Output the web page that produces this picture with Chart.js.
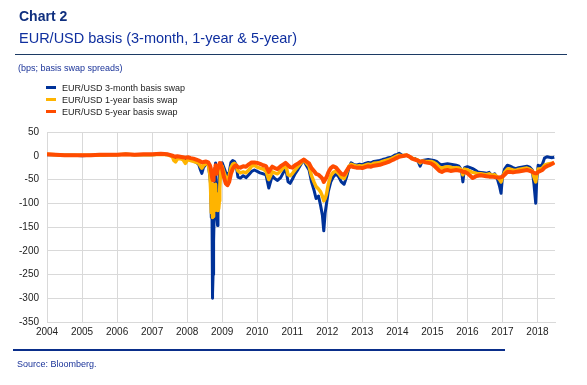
<!DOCTYPE html>
<html>
<head>
<meta charset="utf-8">
<script src="https://cdn.jsdelivr.net/npm/chart.js@4"></script>
<style>
  body { margin: 0; background: #fff; font-family: "Liberation Sans", Arial, sans-serif; }
  #wrap { position: relative; width: 587px; height: 385px; overflow: hidden; }
  #wrap canvas { position: absolute; left: 0; top: 0; }
  .abs { position: absolute; white-space: nowrap; }
  #title { left: 19px; top: 8px; font-size: 14px; font-weight: bold; color: #0f2f7f; }
  #subtitle { left: 19px; top: 30px; font-size: 14.5px; color: #0f2f9f; }
  #topline { left: 15px; top: 54px; width: 552px; height: 1px; background: #1c3a64; }
  #units { left: 18px; top: 63px; font-size: 9px; color: #1a3399; }
  .leg { left: 46px; font-size: 9px; color: #222; }
  .leg i { display: inline-block; width: 10px; height: 3px; margin-right: 6px; vertical-align: 2px; }
  #botline { left: 13px; top: 349px; width: 492px; height: 2px; background: #0a2e8a; }
  #source { left: 17px; top: 359px; font-size: 9px; color: #1a3399; }
</style>
</head>
<body>
<div id="wrap">
  <canvas id="basisChart" width="587" height="385"></canvas>
  <div class="abs" id="title">Chart 2</div>
  <div class="abs" id="subtitle">EUR/USD basis (3-month, 1-year &amp; 5-year)</div>
  <div class="abs" id="topline"></div>
  <div class="abs" id="units">(bps; basis swap spreads)</div>
  <div class="abs leg" style="top:83px"><i style="background:#003299"></i>EUR/USD 3-month basis swap</div>
  <div class="abs leg" style="top:95px"><i style="background:#ffb400"></i>EUR/USD 1-year basis swap</div>
  <div class="abs leg" style="top:107px"><i style="background:#ff4b00"></i>EUR/USD 5-year basis swap</div>
  <div class="abs" id="botline"></div>
  <div class="abs" id="source">Source: Bloomberg.</div>
</div>
<script>
// dates as decimal years, values in bps
const dates = [
  2004.00, 2004.25, 2004.50, 2004.75, 2005.00, 2005.25, 2005.50, 2005.75,
  2006.00, 2006.25, 2006.50, 2006.75, 2007.00, 2007.25, 2007.45, 2007.58,
  2007.62, 2007.67, 2007.72, 2007.80, 2007.88, 2007.95, 2008.02, 2008.10,
  2008.18, 2008.26, 2008.33, 2008.38, 2008.42, 2008.47, 2008.54, 2008.60,
  2008.65, 2008.67, 2008.69, 2008.71, 2008.72, 2008.73, 2008.74, 2008.75, 2008.76, 2008.77, 2008.79,
  2008.80, 2008.81, 2008.83, 2008.85, 2008.87, 2008.88, 2008.90, 2008.92, 2008.93, 2008.95, 2008.96,
  2009.00, 2009.05, 2009.10, 2009.15,
  2009.20, 2009.25, 2009.30, 2009.35, 2009.40, 2009.45, 2009.52, 2009.60,
  2009.68, 2009.76, 2009.84, 2009.92, 2010.00, 2010.08, 2010.17, 2010.25,
  2010.33, 2010.38, 2010.43, 2010.50, 2010.58, 2010.67, 2010.75, 2010.81,
  2010.88, 2010.94, 2011.00, 2011.08, 2011.17, 2011.25, 2011.33, 2011.40,
  2011.48, 2011.55, 2011.62, 2011.68, 2011.75, 2011.81, 2011.86, 2011.90,
  2011.94, 2011.98, 2012.03, 2012.10, 2012.17, 2012.25, 2012.33, 2012.40,
  2012.48, 2012.55, 2012.62, 2012.68, 2012.75, 2012.83, 2012.92, 2013.00,
  2013.08, 2013.17, 2013.25, 2013.33, 2013.42, 2013.50, 2013.58, 2013.67,
  2013.75, 2013.83, 2013.92, 2014.00, 2014.05, 2014.12, 2014.20, 2014.27,
  2014.35, 2014.42, 2014.50, 2014.58, 2014.65, 2014.72, 2014.80, 2014.88,
  2014.96, 2015.04, 2015.12, 2015.20, 2015.27, 2015.35, 2015.43, 2015.52,
  2015.60, 2015.68, 2015.76, 2015.83, 2015.87, 2015.92, 2016.00, 2016.08,
  2016.15, 2016.22, 2016.30, 2016.38, 2016.46, 2016.54, 2016.62, 2016.70,
  2016.78, 2016.86, 2016.92, 2016.96, 2017.00, 2017.06, 2017.14, 2017.22,
  2017.30, 2017.38, 2017.46, 2017.54, 2017.62, 2017.70, 2017.78, 2017.85,
  2017.90, 2017.95, 2017.98, 2018.02, 2018.08, 2018.14, 2018.20, 2018.27,
  2018.34, 2018.42, 2018.48
];
const basis3m = [
  2, 2, 1, 1, 0, 1, 1, 2,
  2, 3, 2, 2, 2, 3, 2, 0,
  -6, -4, -3, -4, -6, -12, -6, -8,
  -10, -14, -18, -30, -37, -24, -18, -16,
  -45, -60, -130, -125, -300, -290, -250, -210, -180, -130, -120,
  -25, -15, -120, -130, -147, -100, -60, -40, -25, -20, -18,
  -15, -25, -35, -40,
  -35, -14, -10, -12, -20, -45, -47, -42,
  -46, -40, -33, -30, -33, -36, -38, -40,
  -68, -55, -42, -48, -52, -46, -35, -24,
  -55, -58, -50, -38, -28, -18, -9, -20,
  -30, -55, -72, -90, -85, -105, -125, -158,
  -120, -100, -75, -55, -45, -38, -45, -55,
  -60, -45, -25, -15, -18, -20, -18, -19,
  -16, -14, -15, -12, -11, -10, -8, -6,
  -4, -3, 1, 3, 5, 2, 0, 1,
  -2, -5, -6, -10, -22, -10, -9, -8,
  -9, -10, -12, -17, -19, -18, -17, -18,
  -19, -20, -22, -30, -55, -25, -23, -25,
  -27, -30, -34, -35, -36, -37, -35, -42,
  -38, -50, -65, -79, -45, -28, -20, -22,
  -25, -27, -25, -24, -23, -22, -24, -30,
  -60, -100, -50, -20, -22, -18, -5, -2,
  -3, -4, -3
];
const basis1y = [
  3, 2, 1, 1, 1, 1, 1, 2,
  2, 3, 2, 2, 2, 3, 2, -2,
  -10, -13, -7, -6, -8, -16, -8, -10,
  -12, -14, -16, -22, -26, -20, -17, -15,
  -40, -70, -120, -60, -130, -125, -100, -128, -90, -115, -70,
  -110, -60, -112, -80, -115, -100, -112, -95, -70, -40, -25,
  -22, -35, -45, -50,
  -42, -25, -18, -16, -20, -32, -36, -34,
  -36, -30, -22, -20, -24, -26, -28, -32,
  -50, -42, -34, -36, -38, -32, -25, -18,
  -40, -42, -38, -30, -22, -15, -8, -15,
  -22, -42, -55, -65, -70, -76, -85, -95,
  -90, -80, -60, -42, -35, -32, -38, -45,
  -48, -36, -22, -18, -20, -22, -21, -22,
  -20, -18, -19, -16, -15, -14, -12, -10,
  -8, -6, -3, 0, 1, 0, 1, 1,
  -2, -5, -7, -9, -15, -11, -12, -12,
  -12, -14, -18, -24, -26, -24, -23, -24,
  -26, -25, -26, -30, -40, -28, -30, -33,
  -35, -36, -38, -38, -39, -40, -38, -41,
  -40, -45, -50, -55, -45, -35, -28, -28,
  -30, -31, -29, -28, -27, -26, -28, -32,
  -45, -55, -40, -28, -28, -26, -20, -18,
  -17, -16, -15
];
const basis5y = [
  3, 2, 1, 1, 1, 1, 2, 2,
  2, 3, 2, 3, 3, 4, 3, 0,
  -1, -2, -1, -2, -3, -4, -3, -5,
  -6, -8, -10, -12, -14, -13, -12, -14,
  -20, -25, -35, -45, -48, -50, -52, -45, -40, -30, -35,
  -25, -20, -38, -35, -28, -22, -20, -18, -15, -16, -18,
  -28, -45, -58, -62,
  -55, -38, -28, -22, -20, -24, -25, -22,
  -23, -18, -14, -14, -15, -17, -20, -22,
  -34, -28, -23, -26, -28, -22, -18, -15,
  -20, -24, -25, -20, -16, -12, -8, -12,
  -16, -26, -32, -38, -40, -44, -48, -55,
  -50, -45, -35, -26, -22, -25, -32, -38,
  -40, -32, -24, -22, -24, -25, -25, -26,
  -24, -22, -23, -21, -20, -19, -17, -15,
  -13, -10, -7, -4, -2, -1, 0, 1,
  -2, -6, -8, -10, -12, -12, -14, -15,
  -16, -20, -26, -32, -34, -31, -30, -32,
  -31, -30, -31, -32, -34, -34, -37, -42,
  -47, -44, -42, -41, -42, -43, -44, -44,
  -45, -46, -46, -45, -44, -40, -34, -34,
  -35, -34, -33, -32, -31, -30, -32, -34,
  -36, -37, -37, -34, -32, -30, -25, -22,
  -20, -17, -14
];
const yearTicks = [2004, 2005, 2006, 2007, 2008, 2009, 2010, 2011, 2012, 2013, 2014, 2015, 2016, 2017, 2018];

const toPoints = vals => vals.map((v, i) => ({ x: dates[i], y: v }));
const tickFont = { family: '"Liberation Sans", Arial, sans-serif', size: 10 };

new Chart(document.getElementById('basisChart'), {
  type: 'line',
  data: {
    datasets: [
      { label: 'EUR/USD 3-month basis swap', data: toPoints(basis3m), borderColor: '#003299', borderWidth: 3, order: 3 },
      { label: 'EUR/USD 1-year basis swap', data: toPoints(basis1y), borderColor: '#ffb400', borderWidth: 3.5, order: 2 },
      { label: 'EUR/USD 5-year basis swap', data: toPoints(basis5y), borderColor: '#ff4b00', borderWidth: 4, order: 1 }
    ]
  },
  options: {
    responsive: false,
    animation: false,
    devicePixelRatio: 1,
    elements: { point: { radius: 0 }, line: { tension: 0, borderJoinStyle: 'round' } },
    layout: { padding: { left: 7, right: 32, top: 132, bottom: 43 } },
    plugins: { legend: { display: false }, tooltip: { enabled: false } },
    scales: {
      x: {
        type: 'linear',
        min: 2004, max: 2018.5,
        afterBuildTicks: s => { s.ticks = yearTicks.map(v => ({ value: v })); },
        afterFit: s => { s.height = 20; },
        grid: { color: '#d9d9d9', drawTicks: false },
        border: { color: '#d9d9d9' },
        ticks: { color: '#222', font: tickFont, padding: 4, maxRotation: 0, autoSkip: false, callback: v => String(v) }
      },
      y: {
        min: -350, max: 50,
        afterFit: s => { s.width = 40; },
        grid: { color: '#d9d9d9', drawTicks: false },
        border: { color: '#d9d9d9' },
        ticks: { color: '#222', font: tickFont, stepSize: 50, padding: 8 }
      }
    }
  }
});
</script>
</body>
</html>
